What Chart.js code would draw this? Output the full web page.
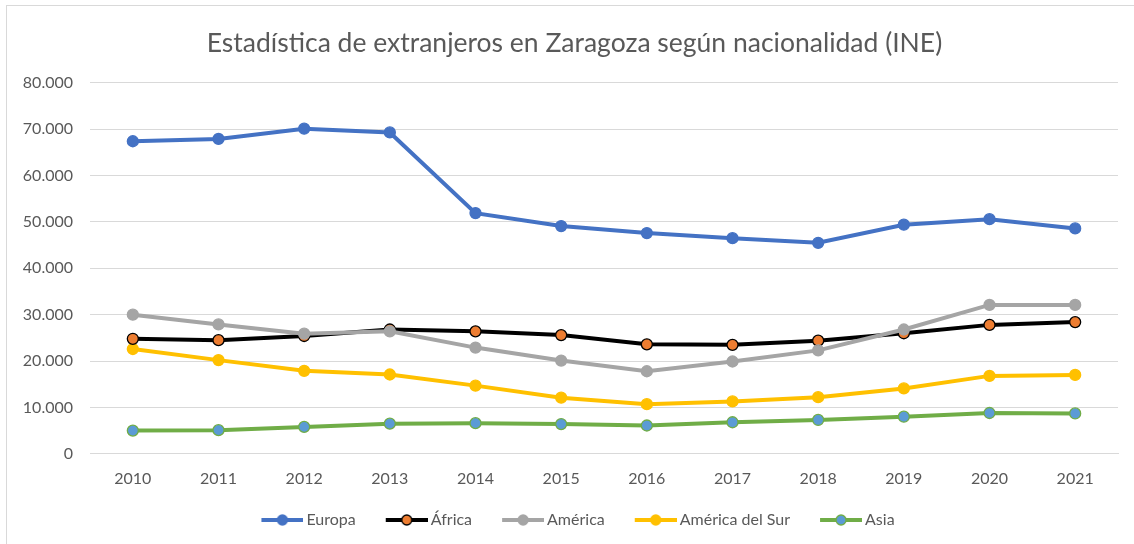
<!DOCTYPE html>
<html>
<head>
<meta charset="utf-8">
<script src="https://cdn.jsdelivr.net/npm/chart.js@4/dist/chart.umd.min.js"></script>
<style>
  html, body { margin: 0; padding: 0; background: #fff; overflow: hidden; }
  #wrap { position: relative; width: 1134px; height: 544px; }
  #frame { position: absolute; left: 6px; top: 5px; right: -10px; bottom: -10px; border-left: 1px solid #D9D9D9; border-top: 1px solid #D9D9D9; pointer-events: none; }
  canvas { display: block; }
</style>
</head>
<body>
<div id="wrap">
  <canvas id="c" width="1134" height="544"></canvas>
  <div id="frame"></div>
</div>
<script>
const years = ['2010','2011','2012','2013','2014','2015','2016','2017','2018','2019','2020','2021'];
const europa = [67400, 67900, 70100, 69300, 51900, 49100, 47600, 46500, 45500, 49400, 50600, 48600];
const africa = [24800, 24500, 25400, 26800, 26400, 25600, 23600, 23500, 24400, 26000, 27800, 28400];
const america = [30000, 27900, 25900, 26400, 22900, 20100, 17800, 19900, 22300, 26800, 32100, 32100];
const americaSur = [22600, 20200, 17900, 17100, 14700, 12100, 10700, 11300, 12200, 14100, 16800, 17000];
const asia = [5000, 5100, 5800, 6500, 6600, 6400, 6100, 6800, 7300, 8000, 8800, 8700];
const seriesNames = ['Europa', 'África', 'América', 'América del Sur', 'Asia'];
const yTicks = [0, 10000, 20000, 30000, 40000, 50000, 60000, 70000, 80000];

const FONT = 'Lato, "Open Sans", sans-serif';
const TXT = '#595959';
const BOXW = 58;

// legend icon: line segment with a marker, offset so the line sits close to the label text
function legendIcon(line, fill, border) {
  const cv = document.createElement('canvas');
  cv.width = 68; cv.height = 14;
  const g = cv.getContext('2d');
  g.strokeStyle = line; g.lineWidth = 4; g.lineCap = 'butt';
  g.beginPath(); g.moveTo(26, 7); g.lineTo(68, 7); g.stroke();
  g.beginPath(); g.arc(47, 7, 5, 0, Math.PI * 2);
  g.fillStyle = fill; g.fill();
  g.lineWidth = 1.3; g.strokeStyle = border; g.stroke();
  return cv;
}

const styles = [
  { line: '#4472C4', fill: '#4472C4', border: '#4472C4' },
  { line: '#000000', fill: '#ED7D31', border: '#000000' },
  { line: '#A5A5A5', fill: '#A5A5A5', border: '#A5A5A5' },
  { line: '#FFC000', fill: '#FFC000', border: '#FFC000' },
  { line: '#70AD47', fill: '#5B9BD5', border: '#70AD47' },
];
const dataArrays = [europa, africa, america, americaSur, asia];

const datasets = dataArrays.map((d, i) => ({
  label: seriesNames[i],
  data: d,
  borderColor: styles[i].line,
  backgroundColor: styles[i].fill,
  pointBackgroundColor: styles[i].fill,
  pointBorderColor: styles[i].border,
  pointBorderWidth: 1.3,
  pointRadius: 5.5,
  borderWidth: 4,
  tension: 0,
  order: i === 1 ? 2 : (i === 2 ? 1 : 3)
}));

const shiftBlocks = {
  id: 'shiftBlocks',
  afterLayout(chart) {
    const t = chart.titleBlock;
    if (t) { t.left += 15.5; t.right += 15.5; }
    const l = chart.legend;
    if (l) { l.left += 8.5; l.right += 8.5; }
  }
};

new Chart(document.getElementById('c'), {
  type: 'line',
  data: { labels: years, datasets },
  plugins: [shiftBlocks],
  options: {
    responsive: false,
    animation: false,
    devicePixelRatio: 1,
    layout: { padding: { left: 0, right: 16, top: 0, bottom: 6 } },
    plugins: {
      title: {
        display: true,
        text: 'Estadística de extranjeros en Zaragoza según nacionalidad (INE)',
        color: TXT,
        font: { family: FONT, size: 26.5, weight: 'normal' },
        padding: { top: 28, bottom: 23 }
      },
      legend: {
        position: 'bottom',
        labels: {
          color: TXT,
          font: { family: FONT, size: 16 },
          usePointStyle: true,
          pointStyleWidth: BOXW,
          padding: 9,
          generateLabels: (chart) => chart.data.datasets.map((ds, i) => ({
            text: ds.label,
            pointStyle: legendIcon(styles[i].line, styles[i].fill, styles[i].border),
            fontColor: TXT,
            lineWidth: 0,
            strokeStyle: 'rgba(0,0,0,0)',
            fillStyle: 'rgba(0,0,0,0)',
            datasetIndex: i,
            hidden: false
          }))
        }
      },
      tooltip: { enabled: false }
    },
    scales: {
      x: {
        offset: true,
        grid: { display: false, drawTicks: false },
        border: { display: true, color: '#D9D9D9', width: 1 },
        ticks: { color: TXT, font: { family: FONT, size: 16 }, padding: 15, maxRotation: 0 }
      },
      y: {
        min: 0, max: 80000,
        afterBuildTicks: (scale) => { scale.ticks = yTicks.map(v => ({ value: v })); },
        afterFit: (scale) => { scale.width = 90; },
        grid: { color: '#D9D9D9', lineWidth: 1, drawTicks: false },
        border: { display: false },
        ticks: {
          color: TXT,
          font: { family: FONT, size: 16 },
          padding: 17,
          callback: (v) => v.toLocaleString('de-DE')
        }
      }
    }
  }
});
</script>
</body>
</html>
